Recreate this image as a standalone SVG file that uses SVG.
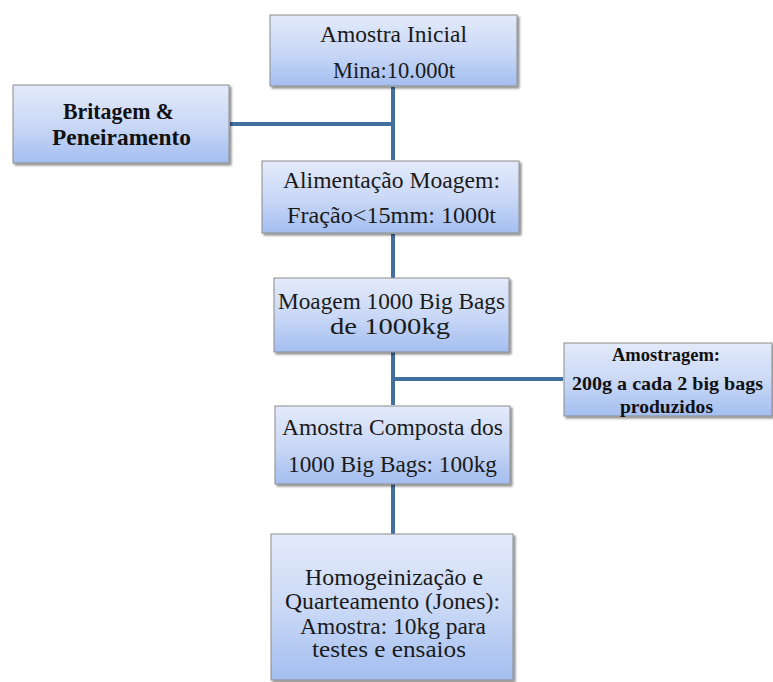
<svg xmlns="http://www.w3.org/2000/svg" width="773" height="682" viewBox="0 0 773 682">
<defs>
<linearGradient id="g" x1="0" y1="0" x2="0" y2="1">
<stop offset="0" stop-color="#e3eafa"/>
<stop offset="0.5" stop-color="#cbd9f6"/>
<stop offset="1" stop-color="#a3bef0"/>
</linearGradient>
<filter id="sh" x="-5%" y="-5%" width="115%" height="115%">
<feDropShadow dx="2" dy="2" stdDeviation="1" flood-color="#000" flood-opacity="0.45"/>
</filter>
</defs>
<style>
.box{fill:url(#g);stroke:#8c8c8c;stroke-width:1;filter:url(#sh)}
text{font-family:'Liberation Serif','Times New Roman',serif;text-anchor:middle}
.t{font-size:23px;fill:#1a1a1a}
.b{font-weight:bold;fill:#111}
.c{stroke:#41709e;stroke-width:4;fill:none}
</style>
<rect width="773" height="682" fill="#fff"/>
<g id="connectors">
<path class="c" d="M393 87V160"/>
<path class="c" d="M230 124H393"/>
<path class="c" d="M393 234V278"/>
<path class="c" d="M393 352V405"/>
<path class="c" d="M393 379H563"/>
<path class="c" d="M393 484V534"/>
</g>
<g id="n1">
<rect class="box" x="270" y="15" width="247" height="71"/>
<text class="t" x="393.5" y="42" textLength="147" lengthAdjust="spacingAndGlyphs">Amostra Inicial</text>
<text class="t" x="394" y="78" textLength="122" lengthAdjust="spacingAndGlyphs">Mina:10.000t</text>
</g>
<g id="n2">
<rect class="box" x="13" y="85" width="216" height="78"/>
<text class="b" x="118.5" y="119" font-size="23" textLength="111" lengthAdjust="spacingAndGlyphs">Britagem &amp;</text>
<text class="b" x="121.5" y="145" font-size="23" textLength="139" lengthAdjust="spacingAndGlyphs">Peneiramento</text>
</g>
<g id="n3">
<rect class="box" x="262" y="161" width="257" height="72"/>
<text class="t" x="391.5" y="188" textLength="217" lengthAdjust="spacingAndGlyphs">Alimentação Moagem:</text>
<text class="t" x="391.5" y="223" textLength="209" lengthAdjust="spacingAndGlyphs">Fração&lt;15mm: 1000t</text>
</g>
<g id="n4">
<rect class="box" x="274" y="278" width="235" height="74"/>
<text class="t" x="391.5" y="309" textLength="227" lengthAdjust="spacingAndGlyphs">Moagem 1000 Big Bags</text>
<text class="t" x="390" y="334" textLength="120" lengthAdjust="spacingAndGlyphs">de 1000kg</text>
</g>
<g id="n5">
<rect class="box" x="564" y="343" width="208" height="73"/>
<text class="b" x="666" y="361" font-size="19.5" textLength="108" lengthAdjust="spacingAndGlyphs">Amostragem:</text>
<text class="b" x="667.5" y="390" font-size="19.5" textLength="191" lengthAdjust="spacingAndGlyphs">200g a cada 2 big bags</text>
<text class="b" x="666.5" y="413" font-size="19.5" textLength="93" lengthAdjust="spacingAndGlyphs">produzidos</text>
</g>
<g id="n6">
<rect class="box" x="275" y="406" width="235" height="78"/>
<text class="t" x="392.5" y="435" textLength="221" lengthAdjust="spacingAndGlyphs">Amostra Composta dos</text>
<text class="t" x="392.5" y="472" textLength="209" lengthAdjust="spacingAndGlyphs">1000 Big Bags: 100kg</text>
</g>
<g id="n7">
<rect class="box" x="271" y="534" width="242" height="146"/>
<text class="t" x="394" y="585" textLength="178" lengthAdjust="spacingAndGlyphs">Homogeinização e</text>
<text class="t" x="392.5" y="609" textLength="215" lengthAdjust="spacingAndGlyphs">Quarteamento (Jones):</text>
<text class="t" x="393" y="634" textLength="186" lengthAdjust="spacingAndGlyphs">Amostra: 10kg para</text>
<text class="t" x="389" y="657" textLength="154" lengthAdjust="spacingAndGlyphs">testes e ensaios</text>
</g>
</svg>
